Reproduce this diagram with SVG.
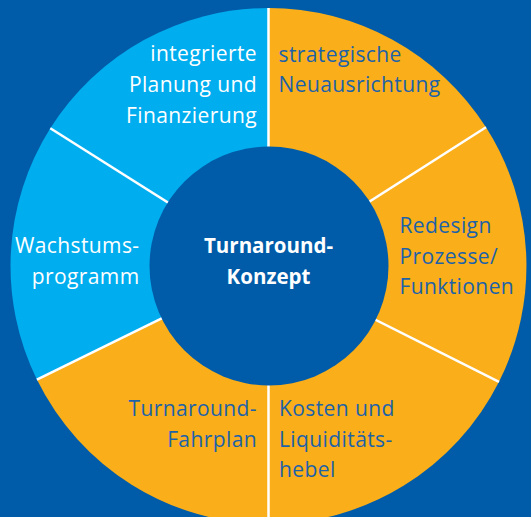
<svg xmlns="http://www.w3.org/2000/svg" width="531" height="517" viewBox="0 0 531 517">
  <style>
    .orange { fill: #f9ae1a; }
    .cyan { fill: #00aeef; }
    .lbl { font-family: "Open Sans", "Liberation Sans", sans-serif; font-size: 21px; letter-spacing: 0.4px; }
    .on-orange { fill: #1d62a9; }
    .on-cyan { fill: #ffffff; }
    .center { font-family: "Open Sans", "Liberation Sans", sans-serif; font-size: 20.5px; font-weight: bold; fill: #ffffff; }
    .div { stroke: #ffffff; stroke-width: 2.5; }
  </style>
  <rect width="531" height="517" fill="#005ca9"/>

  <g id="seg-strategische">
    <path class="orange" d="M268.5,266 L268.5,8 A258,258 0 0 1 486,127.3 Z"/>
    <text class="lbl on-orange" x="278.5" y="61.5">strategische</text>
    <text class="lbl on-orange" x="278.5" y="92">Neuausrichtung</text>
  </g>

  <g id="seg-redesign">
    <path class="orange" d="M268.5,266 L486,127.3 A258,258 0 0 1 499,381.8 Z"/>
    <text class="lbl on-orange" x="399.5" y="233.3">Redesign</text>
    <text class="lbl on-orange" x="399.5" y="263.8">Prozesse/</text>
    <text class="lbl on-orange" x="399.5" y="294.3">Funktionen</text>
  </g>

  <g id="seg-kosten">
    <path class="orange" d="M268.5,266 L499,381.8 A258,258 0 0 1 268.5,524 Z"/>
    <text class="lbl on-orange" x="279" y="416">Kosten und</text>
    <text class="lbl on-orange" x="279" y="446.7">Liquiditäts-</text>
    <text class="lbl on-orange" x="279" y="477.3">hebel</text>
  </g>

  <g id="seg-fahrplan">
    <path class="orange" d="M268.5,266 L268.5,524 A258,258 0 0 1 36.9,379.6 Z"/>
    <text class="lbl on-orange" x="257" y="416" text-anchor="end">Turnaround-</text>
    <text class="lbl on-orange" x="257" y="446.7" text-anchor="end">Fahrplan</text>
  </g>

  <g id="seg-wachstum">
    <path class="cyan" d="M268.5,266 L36.9,379.6 A258,258 0 0 1 50.3,128.3 Z"/>
    <text class="lbl on-cyan" x="139.5" y="253.3" text-anchor="end">Wachstums-</text>
    <text class="lbl on-cyan" x="139.5" y="283.8" text-anchor="end">programm</text>
  </g>

  <g id="seg-planung">
    <path class="cyan" d="M268.5,266 L50.3,128.3 A258,258 0 0 1 268.5,8 Z"/>
    <text class="lbl on-cyan" x="257" y="61" text-anchor="end">integrierte</text>
    <text class="lbl on-cyan" x="257" y="91.8" text-anchor="end">Planung und</text>
    <text class="lbl on-cyan" x="257" y="122.7" text-anchor="end">Finanzierung</text>
  </g>

  <g id="connectors">
    <line class="div" x1="268.5" y1="266" x2="268.5" y2="8"/>
    <line class="div" x1="268.5" y1="266" x2="486" y2="127.3"/>
    <line class="div" x1="268.5" y1="266" x2="499" y2="381.8"/>
    <line class="div" x1="268.5" y1="266" x2="268.5" y2="524"/>
    <line class="div" x1="268.5" y1="266" x2="36.9" y2="379.6"/>
    <line class="div" x1="268.5" y1="266" x2="50.3" y2="128.3"/>
  </g>

  <g id="center">
    <circle cx="269" cy="266" r="119.5" fill="#005ca9"/>
    <text class="center" x="268.5" y="253.3" text-anchor="middle">Turnaround-</text>
    <text class="center" x="268.5" y="284" text-anchor="middle">Konzept</text>
  </g>
</svg>
